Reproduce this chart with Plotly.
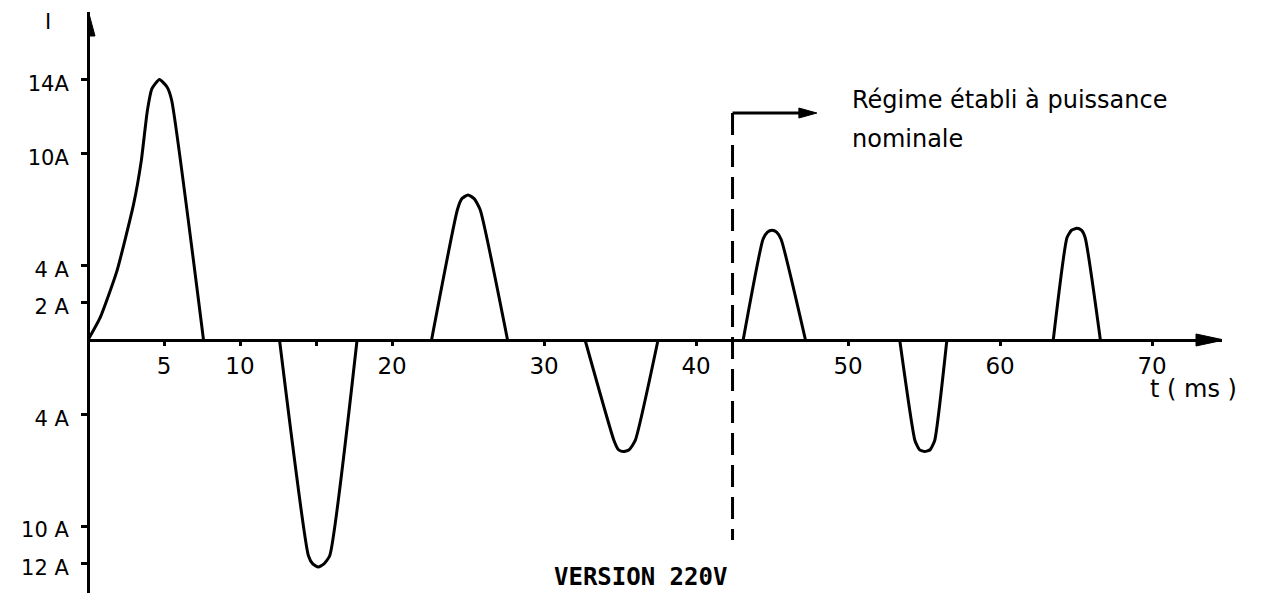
import plotly.graph_objects as go

# ---- data: time (ms) and current (A) for each current pulse ----
p1_t = [0, 0.8, 1.9, 3.0, 3.5, 3.9, 4.2, 4.7, 5.2, 5.5, 7.6]
p1_i = [0, 1.2, 3.7, 7.3, 9.6, 12.3, 13.5, 14.0, 13.6, 12.9, 0]
n1_t = [12.6, 14.5, 14.8, 15.15, 15.5, 15.9, 17.7]
n1_i = [0, -11.6, -12.05, -12.2, -12.05, -11.6, 0]
p2_t = [22.6, 24.3, 24.6, 25.0, 25.4, 25.8, 27.6]
p2_i = [0, 7.0, 7.6, 7.8, 7.6, 7.0, 0]
n2_t = [32.7, 34.6, 34.9, 35.2, 35.6, 36.0, 37.5]
n2_i = [0, -5.4, -5.9, -6.0, -5.9, -5.4, 0]
p3_t = [43.1, 44.4, 44.7, 45.0, 45.3, 45.6, 47.2]
p3_i = [0, 5.4, 5.8, 5.9, 5.8, 5.4, 0]
n3_t = [53.4, 54.4, 54.7, 55.05, 55.4, 55.7, 56.5]
n3_i = [0, -5.4, -5.9, -6.0, -5.9, -5.4, 0]
p4_t = [63.5, 64.4, 64.7, 65.05, 65.35, 65.6, 66.6]
p4_i = [0, 5.5, 5.9, 6.0, 5.9, 5.5, 0]

x_tickvals = [5, 10, 15, 20, 30, 40, 50, 60, 70]
x_ticktext = ["5", "10", "", "20", "30", "40", "50", "60", "70"]
y_tickvals = [14, 10, 4, 2, -4, -10, -12]
y_ticktext = ["14A", "10A", "4 A", "2 A", "4 A", "10 A", "12 A"]

regime_t = 42.4          # start of steady state (dashed line), ms
regime_top = 12.2        # height of the annotation arrow, A
regime_bottom = -10.75
regime_text_1 = "Régime établi à puissance"
regime_text_2 = "nominale"
x_title = "t ( ms )"
y_title = "I"
footer = "VERSION 220V"

# ---- geometry (page pixels; the page body has an 8px margin) ----
PAGE_W, PAGE_H = 1269, 593
OFF = 8
W, H = PAGE_W - OFF, PAGE_H - OFF


def px(x):
    return (x - OFF) / W


def py(y):
    return (H - (y - OFF)) / H


X_MAX = 74.6
Y_MIN, Y_MAX = -13.6, 17.63
x_dom = [px(88), px(1222)]
y_dom = [0, py(12)]
x_axis_pos = py(340)

segments = [(p1_t, p1_i), (n1_t, n1_i), (p2_t, p2_i), (n2_t, n2_i),
            (p3_t, p3_i), (n3_t, n3_i), (p4_t, p4_i)]
xs, ys = [], []
for t, i in segments:
    xs += list(t) + [None]
    ys += list(i) + [None]

fig = go.Figure()
fig.add_trace(go.Scatter(
    x=xs, y=ys, mode="lines", connectgaps=False,
    line=dict(color="black", width=3, shape="spline", smoothing=0.5),
    hoverinfo="skip", showlegend=False,
))

FONT = "DejaVu Sans"

fig.update_layout(
    width=W, height=H,
    margin=dict(l=0, r=0, t=0, b=0),
    paper_bgcolor="white", plot_bgcolor="white",
    showlegend=False,
    xaxis=dict(
        domain=x_dom, range=[0, X_MAX], anchor="free", position=x_axis_pos,
        showgrid=False, zeroline=False, showline=True, linecolor="black", linewidth=3,
        tickmode="array", tickvals=x_tickvals, ticktext=x_ticktext,
        ticks="outside", ticklen=4, tickwidth=3, tickcolor="black",
        ticklabelstandoff=0,
        tickfont=dict(family=FONT, size=23, color="black"),
    ),
    yaxis=dict(
        domain=y_dom, range=[Y_MIN, Y_MAX], anchor="free", position=x_dom[0],
        showgrid=False, zeroline=False, showline=True, linecolor="black", linewidth=3,
        tickmode="array", tickvals=y_tickvals, ticktext=y_ticktext,
        ticks="outside", ticklen=6, tickwidth=3, tickcolor="black",
        ticklabelstandoff=8, ticklabelshift=4,
        tickfont=dict(family=FONT, size=21, color="black"),
    ),
)

# axis arrowheads (pixel-sized paths anchored at the axis ends)
fig.add_shape(type="path", xref="x", yref="y", xsizemode="pixel", ysizemode="pixel",
              xanchor=X_MAX, yanchor=0, path="M 2,0 L -26,6 L -26,-6 Z",
              fillcolor="black", line=dict(color="black", width=1))
fig.add_shape(type="path", xref="x", yref="y", xsizemode="pixel", ysizemode="pixel",
              xanchor=0, yanchor=Y_MAX, path="M 0,2 L -7,-24 L 7,-24 Z",
              fillcolor="black", line=dict(color="black", width=1))

# steady-state marker: dashed vertical line + arrow
fig.add_shape(type="line", xref="x", yref="y", x0=regime_t, x1=regime_t,
              y0=regime_top, y1=regime_bottom,
              line=dict(color="black", width=3, dash="22px,10px"))
fig.add_shape(type="line", xref="x", yref="y", x0=regime_t, x1=regime_t + 4.9,
              y0=regime_top, y1=regime_top, line=dict(color="black", width=3))
fig.add_shape(type="path", xref="x", yref="y", xsizemode="pixel", ysizemode="pixel",
              xanchor=regime_t + 5.55, yanchor=regime_top, path="M 0,0 L -18,5 L -18,-5 Z",
              fillcolor="black", line=dict(color="black", width=1))

fig.add_annotation(x=regime_t + 7.7, y=12.9, xref="x", yref="y", text=regime_text_1,
                   showarrow=False, xanchor="left", yanchor="middle",
                   font=dict(family=FONT, size=24, color="black"))
fig.add_annotation(x=regime_t + 7.7, y=10.8, xref="x", yref="y", text=regime_text_2,
                   showarrow=False, xanchor="left", yanchor="middle",
                   font=dict(family=FONT, size=24, color="black"))

fig.add_annotation(x=px(1193), y=py(389), xref="paper", yref="paper", text=x_title,
                   showarrow=False, xanchor="center", yanchor="middle",
                   font=dict(family=FONT, size=24, color="black"))
fig.add_annotation(x=px(48), y=py(22), xref="paper", yref="paper", text=y_title,
                   showarrow=False, xanchor="center", yanchor="middle", borderpad=0,
                   font=dict(family=FONT, size=21, color="black"))
fig.add_annotation(x=px(640), y=py(577), xref="paper", yref="paper", text=footer,
                   showarrow=False, xanchor="center", yanchor="middle",
                   font=dict(family="DejaVu Sans Mono", size=24, color="black", weight="bold"))

fig.write_html("out.html")
